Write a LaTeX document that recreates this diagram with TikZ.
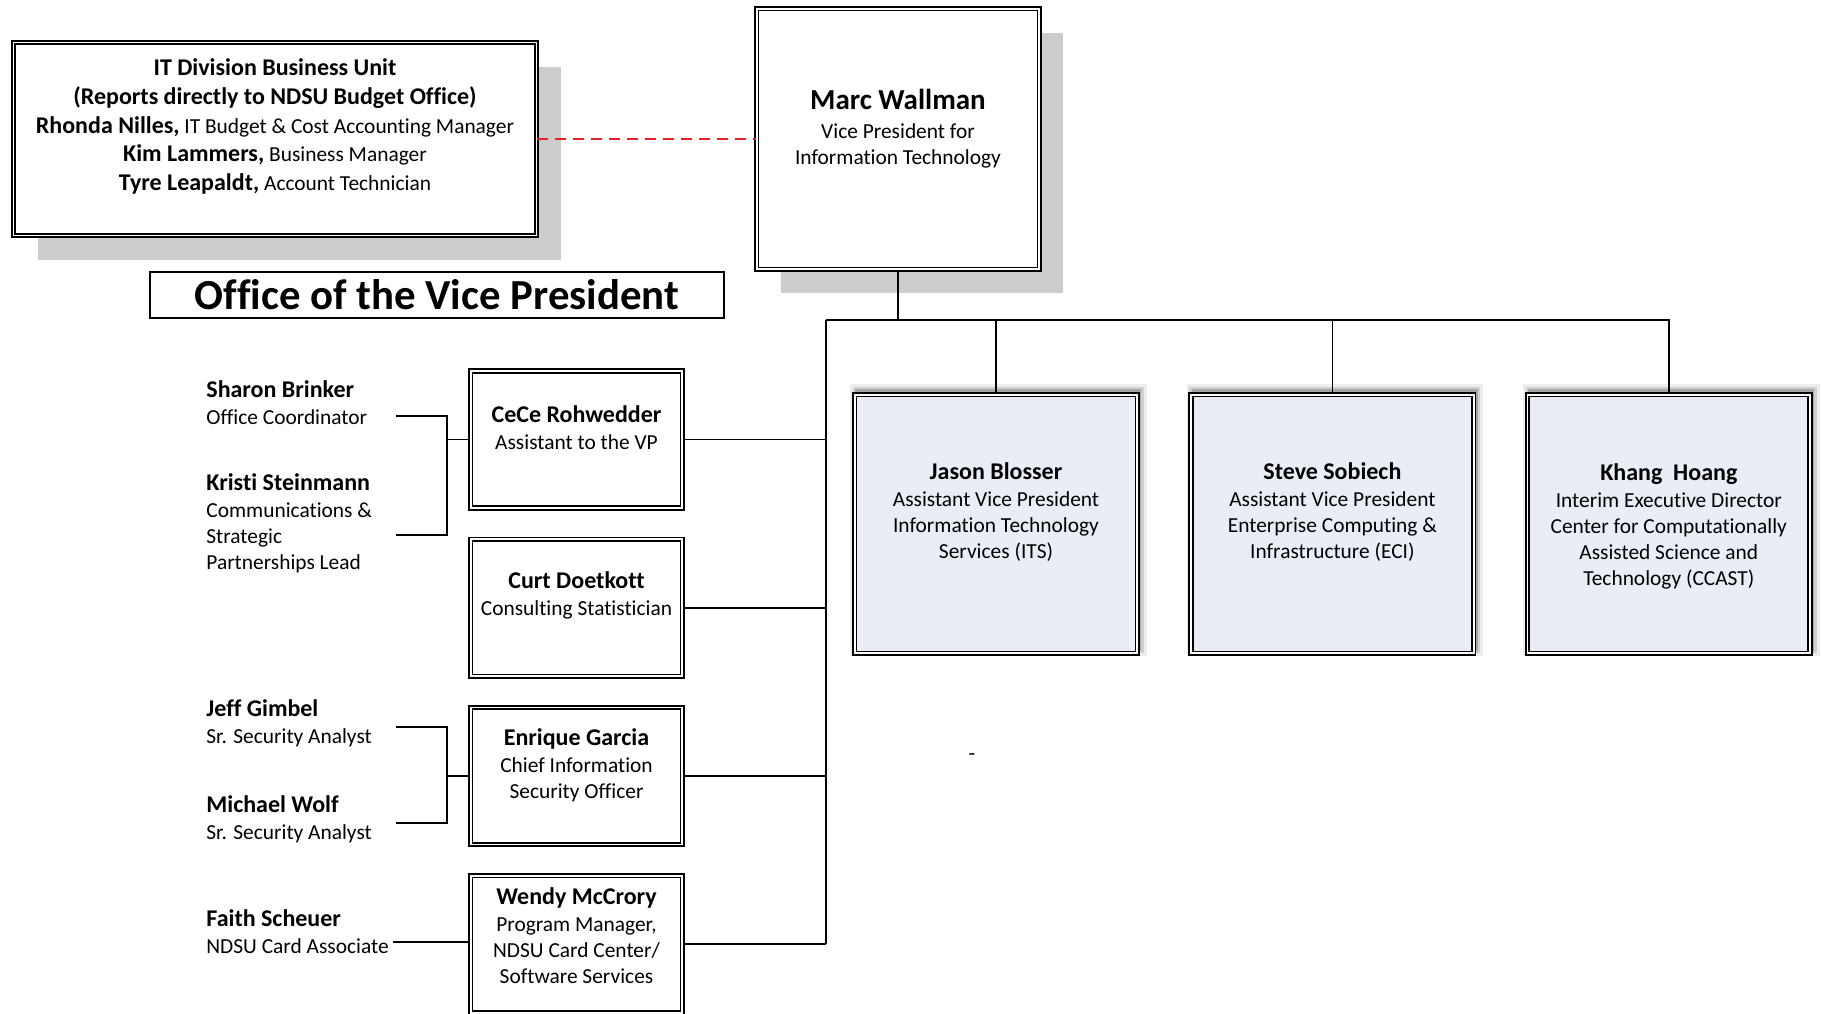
\documentclass[tikz,border=0pt]{standalone}
\usepackage{fontspec}
\setmainfont{Carlito}[Ligatures=NoCommon]
\usetikzlibrary{positioning,calc,shadows}

\definecolor{avpblue}{HTML}{E9EDF5}
\definecolor{shadowgray}{HTML}{CCCCCC}
\definecolor{budgetred}{HTML}{E4202B}

\newcommand{\who}[1]{{\fontsize{12}{14}\selectfont\bfseries #1}}

\begin{document}
\begin{tikzpicture}[x=0.5pt, y=-0.5pt,
    every node/.style={font=\fontsize{10.7}{12.9}\selectfont},
    box/.style={draw, line width=0.9pt, double=white, double distance=0.9pt,
                fill=white, inner sep=0pt},
    grayshadow/.style={drop shadow={shadow xshift=12pt, shadow yshift=-12pt,
                fill=shadowgray, opacity=1}},
    softshadow/.style={
      general shadow={fill=black, opacity=.07, shadow xshift=1.2pt, shadow yshift=2pt, shadow scale=1.05},
      general shadow={fill=black, opacity=.12, shadow xshift=1.2pt, shadow yshift=2pt, shadow scale=1.03},
      general shadow={fill=black, opacity=.20, shadow xshift=1.2pt, shadow yshift=2pt, shadow scale=1.012}},
    unitbox/.style={box, grayshadow, minimum width=261.5pt, minimum height=96.5pt},
    vpbox/.style={box, grayshadow, minimum width=141.3pt, minimum height=130.3pt},
    avpbox/.style={box, softshadow, fill=avpblue, minimum width=141.3pt, minimum height=129.3pt},
    staffbox/.style={box, minimum width=105.8pt, minimum height=68.5pt},
    txt/.style={inner sep=0pt, align=center},
    person/.style={inner sep=0pt, align=left, anchor=west},
    link/.style={line width=0.9pt},
    budgetlink/.style={line width=0.9pt, budgetred, dash pattern=on 5.5pt off 3.5pt}
  ]
  \useasboundingbox (0,0) rectangle (1822,1013);

  % top row
  \node[unitbox] (unit) at (275,139) {};
  \node[vpbox] (marc) at (898,139) {};
  \node[draw, line width=0.8pt, inner sep=0pt, minimum width=287pt, minimum height=23pt,
        font=\fontsize{21.4}{23}\selectfont\bfseries] (ovp) at (437,295) {Office of the Vice President};

  \node[txt, font=\fontsize{10.7}{14.4}\selectfont, yshift=6.25pt] (unit-t) at (unit)
    {\who{IT Division Business Unit}\\
     \who{(Reports directly to NDSU Budget Office)}\\
     \who{Rhonda Nilles,} IT Budget \& Cost Accounting Manager\\
     \who{Kim Lammers,} Business Manager\\
     \who{Tyre Leapaldt,} Account Technician};
  \node[txt, yshift=5.25pt] (marc-t) at (marc)
    {{\fontsize{14.5}{17}\selectfont\bfseries Marc Wallman}\\[2pt]
     Vice President for\\ Information Technology};

  % assistant vice presidents
  \node[avpbox] (jason) at (996,524) {};
  \node[avpbox, right=26pt of jason] (steve) {};
  \node[avpbox, right=26pt of steve] (khang) {};

  \node[txt, yshift=6pt] (jason-t) at (jason)
    {\who{Jason Blosser}\\[0.6pt] Assistant Vice President\\ Information Technology\\ Services (ITS)};
  \node[txt, yshift=6pt] (steve-t) at (steve)
    {\who{Steve Sobiech}\\[0.6pt] Assistant Vice President\\ Enterprise Computing \&\\ Infrastructure (ECI)};
  \node[txt, yshift=-1.25pt] (khang-t) at (khang)
    {\who{Khang\ \ Hoang}\\[0.6pt] Interim Executive Director\\ Center for Computationally\\
     Assisted Science and\\ Technology (CCAST)};

  % office staff
  \node[staffbox] (cece) at (576.5,439.5) {};
  \node[staffbox, below=14.7pt of cece] (curt) {};
  \node[staffbox, below=14.7pt of curt] (enrique) {};
  \node[staffbox, below=14.7pt of enrique] (wendy) {};

  \node[txt, yshift=6pt] (cece-t) at (cece) {\who{CeCe Rohwedder}\\[0.6pt] Assistant to the VP};
  \node[txt, yshift=6pt] (curt-t) at (curt) {\who{Curt Doetkott}\\[0.6pt] Consulting Statistician};
  \node[txt, yshift=5.5pt] (enrique-t) at (enrique)
    {\who{Enrique Garcia}\\[0.6pt] Chief Information\\ Security Officer};
  \node[txt, yshift=4.25pt] (wendy-t) at (wendy)
    {\who{Wendy McCrory}\\[0.6pt] Program Manager,\\ NDSU Card Center/\\ Software Services};

  \node[person] (sharon) at (206,403) {\who{Sharon Brinker}\\[0.6pt] Office Coordinator};
  \node[person] (kristi) at (206,523.5)
    {\who{Kristi Steinmann}\\[0.6pt] Communications \&\\ Strategic\\ Partnerships Lead};
  \node[person] (jeff) at (206,723) {\who{Jeff Gimbel}\\[0.6pt] Sr. Security Analyst};
  \node[person] (michael) at (206,819) {\who{Michael Wolf}\\[0.6pt] Sr. Security Analyst};
  \node[person] (faith) at (206,932) {\who{Faith Scheuer}\\[0.6pt] NDSU Card Associate};

  \node (dash) at (972,757) {-};

  % connectors
  \coordinate (bus) at (826,320);
  \draw[budgetlink] (unit.east) -- (marc.west);
  \draw[link] (marc.south) -- (marc.south |- bus);
  \draw[link] (bus) -| (khang.north);
  \draw[link] (jason.north) -- (jason.north |- bus);
  \draw[link] (steve.north) -- (steve.north |- bus);
  \draw[link] (bus) -- (bus |- wendy);
  \foreach \s in {cece,curt,enrique,wendy}
    \draw[link] (\s.east) -- (\s.east -| bus);

  \coordinate (sharon-c) at (396,416);
  \coordinate (kristi-c) at (396,535);
  \coordinate (jeff-c) at (396,727);
  \coordinate (michael-c) at (396,823);
  \coordinate (faith-c) at (393,942);
  \coordinate (cece-j) at ($(cece.west)+(-23,0)$);
  \coordinate (enrique-j) at ($(enrique.west)+(-23,0)$);
  \draw[link] (sharon-c) -| (cece-j) |- (kristi-c);
  \draw[link] (cece-j) -- (cece.west);
  \draw[link] (jeff-c) -| (enrique-j) |- (michael-c);
  \draw[link] (enrique-j) -- (enrique.west);
  \draw[link] (faith-c) -- (faith-c -| wendy.west);
\end{tikzpicture}
\end{document}
